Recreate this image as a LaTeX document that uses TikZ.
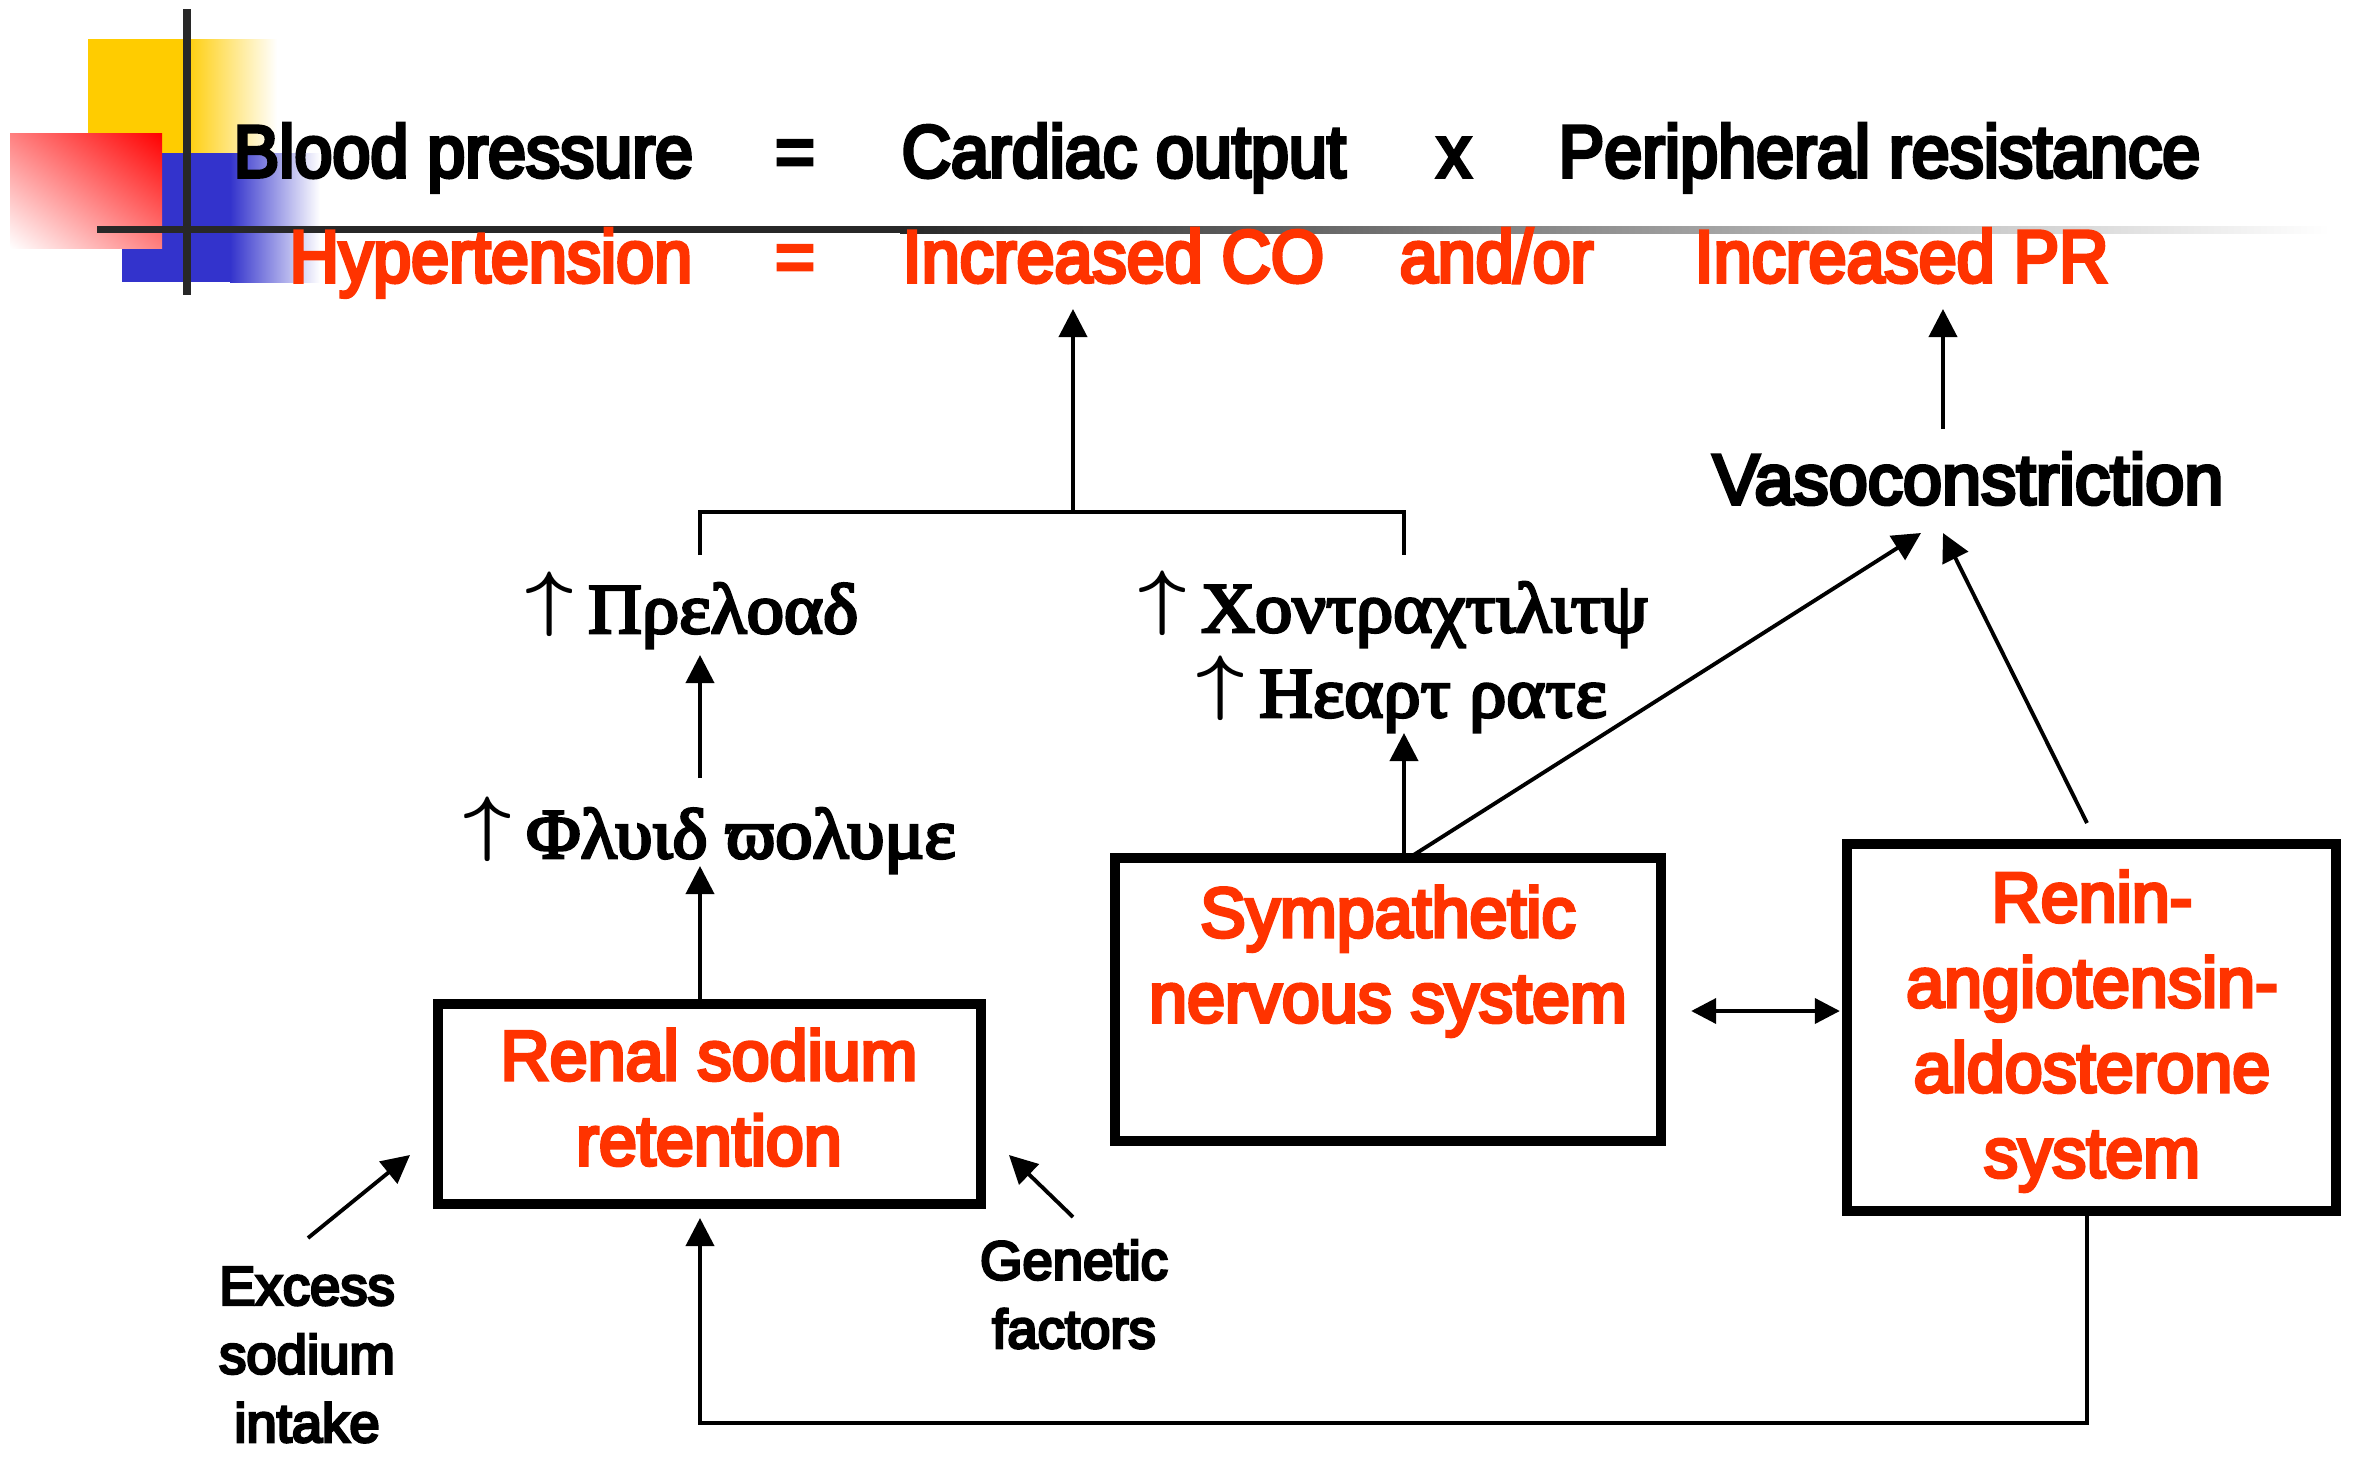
\documentclass[tikz,border=0pt]{standalone}
\usepackage{fontspec}
\setmainfont[FakeBold=5]{Liberation Sans}
\newfontfamily\topfont[FakeStretch=0.925,FakeBold=5]{Liberation Sans}
\newfontfamily\boxfont[FakeStretch=0.97,FakeBold=5]{Liberation Sans}
\newfontfamily\vasofont[FakeStretch=0.99,FakeBold=5]{Liberation Sans}
\newfontfamily\grkfont[FakeStretch=1.05,FakeBold=4]{Liberation Serif}
\usetikzlibrary{arrows.meta,calc,shadings}
\definecolor{hred}{RGB}{255,51,0}
\definecolor{dyellow}{RGB}{255,204,0}
\definecolor{dblue}{RGB}{51,51,204}
\definecolor{dline}{RGB}{40,40,40}
\newcommand{\upar}{\raisebox{0.15em}{\scalebox{1.15}[1]{\boldmath$\uparrow$}}\hspace{0.2em}}
\begin{document}
\begin{tikzpicture}[x=0.01cm,y=-0.01cm,
  conn/.style={line width=1.1pt,-{Triangle[length=0.28cm,width=0.28cm]}},
  dconn/.style={line width=1.1pt,{Triangle[length=0.25cm,width=0.25cm]}-{Triangle[length=0.25cm,width=0.25cm]}},
  plain/.style={line width=1.1pt},
  bx/.style={draw,line width=2.85pt,inner sep=0pt},
  toptxt/.style={font=\topfont\fontsize{21pt}{25pt}\selectfont,inner sep=0pt},
  boxtxt/.style={font=\boxfont\fontsize{20pt}{24.2pt}\selectfont,text=hred,align=center,inner sep=0pt,anchor=base},
  smalltxt/.style={font=\fontsize{15.5pt}{19.5pt}\selectfont,align=center,inner sep=0pt,anchor=base},
  grk/.style={font=\grkfont\fontsize{20.2pt}{24pt}\selectfont,inner sep=0pt,anchor=base west}
]
\useasboundingbox (0,0) rectangle (2362,1463);
\fill[white] (0,0) rectangle (2362,1463);

% decoration top-left
\fill[dyellow] (88,39) rectangle (184,153);
\shade[left color=dyellow,right color=white] (183,39) rectangle (277,153);
\fill[dblue] (122,153) rectangle (231,282);
\shade[left color=dblue,right color=white] (230,153) rectangle (320,282);
\shade[upper left=red!50,upper right=red,lower left=white,lower right=red!50] (10,133) rectangle (162,248);
\fill[dline] (97,226) rectangle (901,233);
\shade[left color=dline,right color=white] (900,226) rectangle (2330,233);
\fill[dline] (183,9) rectangle (191,295);

% top equations
\node[toptxt,anchor=base west] (bp) at (233,177) {Blood pressure};
\node[toptxt,anchor=base] (eq1) at (795,177) {=};
\node[toptxt,anchor=base west] (co) at (901,177) {Cardiac output};
\node[toptxt,anchor=base] (times) at (1454,177) {x};
\node[toptxt,anchor=base west] (pr) at (1558,177) {Peripheral resistance};
\node[toptxt,text=hred,anchor=base west] (ht) at (289,282) {Hypertension};
\node[toptxt,text=hred,anchor=base] (eq2) at (795,282) {=};
\node[toptxt,text=hred,anchor=base west] (ico) at (902,282) {Increased CO};
\node[toptxt,text=hred,anchor=base west] (andor) at (1399,282) {and/or};
\node[toptxt,text=hred,anchor=base west] (ipr) at (1694,282) {Increased PR};

% boxes
\node[bx,minimum width=5.43cm,minimum height=2.00cm] (renal) at (709.5,1104) {};
\node[bx,minimum width=5.46cm,minimum height=2.83cm] (sym) at (1388,999.5) {};
\node[bx,minimum width=4.89cm,minimum height=3.67cm] (raas) at (2091.5,1027.5) {};
\node[boxtxt] (renalt) at (709,1165) {Renal sodium\\retention};
\node[boxtxt] (symt) at (1388,1022) {Sympathetic\\nervous system};
\node[boxtxt] (raast) at (2092,1177) {Renin-\\angiotensin-\\aldosterone\\system};

% other texts
\node[font=\vasofont\fontsize{20.2pt}{24pt}\selectfont,inner sep=0pt,anchor=base west] (vaso) at (1712,504) {Vasoconstriction};
\node[grk] (preload) at (525,633) {\upar Πρελοαδ};
\node[grk] (fluid) at (463,858) {\upar Φλυιδ ϖολυμε};
\node[grk] (contr) at (1138,632) {\upar Χοντραχτιλιτψ};
\node[grk] (heart) at (1196,717) {\upar Ηεαρτ ρατε};
\node[smalltxt] (excess) at (307,1442) {Excess\\sodium\\intake};
\node[smalltxt] (genetic) at (1074,1348) {Genetic\\factors};

% coordinates
\coordinate (fvin) at (700,866);
\coordinate (plout) at (700,778);
\coordinate (plin) at (700,655);
\coordinate (brL) at (700,555);
\coordinate (brR) at (1404,555);
\coordinate (brtop) at (1073,512);
\coordinate (coin) at (1073,309);
\coordinate (hrin) at (1404,733);
\coordinate (symdiag) at (1412,856);
\coordinate (vasoinL) at (1921,533);
\coordinate (raasout) at (2087,823);
\coordinate (vasoinR) at (1943,533);
\coordinate (vasoout) at (1943,429);
\coordinate (prin) at (1943,309);
\coordinate (dy) at (0,1011);
\coordinate (fbL) at (700,1423);
\coordinate (fbT) at (700,1218);
\coordinate (exout) at (308,1238);
\coordinate (exin) at (410,1155);
\coordinate (genout) at (1073,1217);
\coordinate (genin) at (1009,1155);

% connectors
\draw[conn] (renal.north -| fvin) -- (fvin);
\draw[conn] (plout) -- (plin);
\draw[plain] (brL) |- (brtop) -| (brR);
\draw[conn] (brtop) -- (coin);
\draw[conn] (sym.north -| hrin) -- (hrin);
\draw[conn] (symdiag) -- (vasoinL);
\draw[conn] (raasout) -- (vasoinR);
\draw[conn] (vasoout) -- (prin);
\draw[dconn,shorten <=0.25cm,shorten >=0.02cm] (sym.east |- dy) -- (raas.west |- dy);
\draw[conn] (raas.south -| raasout) |- (fbL) -- (fbT);
\draw[conn] (exout) -- (exin);
\draw[conn] (genout) -- (genin);
\end{tikzpicture}
\end{document}
